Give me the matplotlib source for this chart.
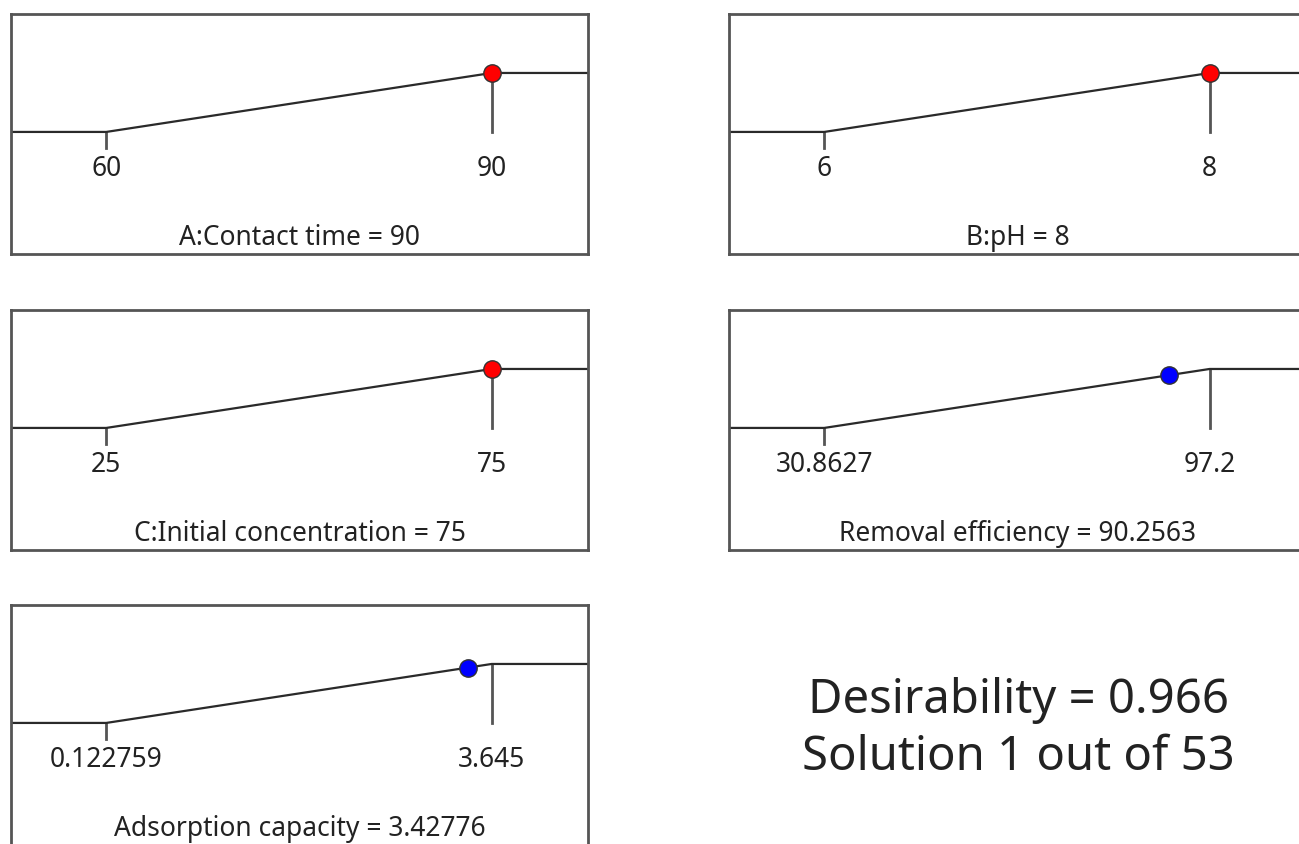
import matplotlib
matplotlib.use("Agg")
import matplotlib.pyplot as plt

# ---- data ----
names = ["A:Contact time", "B:pH", "C:Initial concentration",
         "Removal efficiency", "Adsorption capacity"]
lows = [60, 6, 25, 30.8627, 0.122759]
highs = [90, 8, 75, 97.2, 3.645]
low_labels = ["60", "6", "25", "30.8627", "0.122759"]
high_labels = ["90", "8", "75", "97.2", "3.645"]
values = [90, 8, 75, 90.2563, 3.42776]
value_labels = ["90", "8", "75", "90.2563", "3.42776"]
point_colors = ["#ff0000", "#ff0000", "#ff0000", "#0000ff", "#0000ff"]
desirability = "0.966"
solution_text = "Solution 1 out of 53"

plt.rcParams['font.family'] = ['Noto Sans', 'DejaVu Sans']

W, H = 1299, 844
fig = plt.figure(figsize=(W / 100, H / 100), dpi=100)

# panel boxes in pixels: (left, top, right, bottom)
boxes = [(11, 14, 588, 254), (729, 14, 1306, 254),
         (11, 310, 588, 550), (729, 310, 1306, 550),
         (11, 605, 588, 845)]

line_col = "#2a2a2a"
border_col = "#555555"
txt_col = "#222222"
fs = 19

for i in range(5):
    l, t, r, b = boxes[i]
    ax = fig.add_axes([l / W, 1 - b / H, (r - l) / W, (b - t) / H])
    lo, hi, v = lows[i], highs[i], values[i]
    span = hi - lo
    x0 = lo - 0.247 * span
    x1 = hi + 0.25 * span
    ax.set_xlim(x0, x1)
    ax.set_ylim(-2.07, 2.0)
    # ramp
    ax.plot([x0, lo, hi, x1], [0, 0, 1, 1], color=line_col, lw=1.6,
            solid_capstyle='butt', zorder=2)
    # ticks
    ax.plot([lo, lo], [0, -0.28], color=border_col, lw=2, zorder=1)
    ax.plot([hi, hi], [1, 0], color=border_col, lw=2, zorder=1)
    # point
    d = min(max((v - lo) / span, 0), 1)
    ax.plot([v], [d], marker='o', markersize=12.5, markerfacecolor=point_colors[i],
            markeredgecolor="#333333", markeredgewidth=1.0, zorder=3)
    ax.text(lo, -0.63, low_labels[i], ha='center', va='center', fontsize=fs,
            color=txt_col)
    ax.text(hi, -0.63, high_labels[i], ha='center', va='center', fontsize=fs,
            color=txt_col)
    ax.text((x0 + x1) / 2, -1.915, f"{names[i]} = {value_labels[i]}",
            ha='center', va='baseline', fontsize=fs, color=txt_col)
    ax.set_xticks([])
    ax.set_yticks([])
    for s in ax.spines.values():
        s.set_color(border_col)
        s.set_linewidth(2)

fig.text(1018 / W, 1 - 700 / H, f"Desirability = {desirability}", ha='center',
         va='center', fontsize=34, color=txt_col)
fig.text(1018 / W, 1 - 757 / H, solution_text, ha='center', va='center',
         fontsize=34, color=txt_col)

fig.savefig("out.png", dpi=100)
